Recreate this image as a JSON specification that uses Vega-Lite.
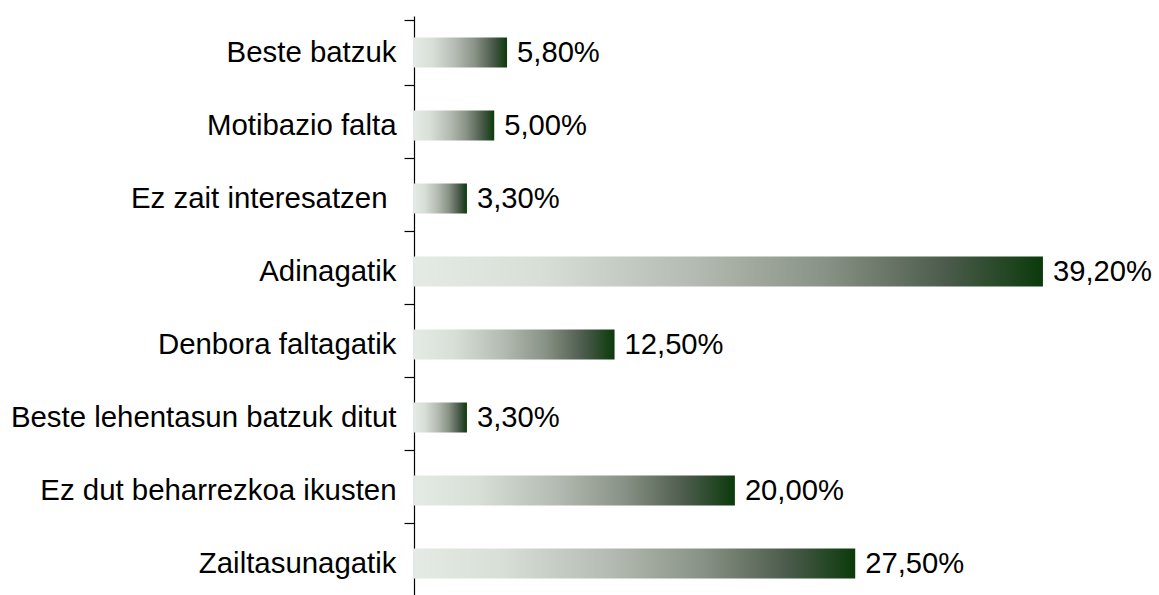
{
  "$schema": "https://vega.github.io/schema/vega-lite/v6.json",
  "width": 722,
  "height": 584,
  "autosize": {"type": "none"},
  "padding": {"left": 414, "top": 16, "right": 23, "bottom": 0},
  "background": "white",
  "config": {"view": {"stroke": null}, "font": "Liberation Sans"},
  "data": {
    "values": [
      {"category": "Beste batzuk", "value": 5.8, "label": "5,80%"},
      {"category": "Motibazio falta", "value": 5.0, "label": "5,00%"},
      {"category": "Ez zait interesatzen", "value": 3.3, "label": "3,30%"},
      {"category": "Adinagatik", "value": 39.2, "label": "39,20%"},
      {"category": "Denbora faltagatik", "value": 12.5, "label": "12,50%"},
      {"category": "Beste lehentasun batzuk ditut", "value": 3.3, "label": "3,30%"},
      {"category": "Ez dut beharrezkoa ikusten", "value": 20.0, "label": "20,00%"},
      {"category": "Zailtasunagatik", "value": 27.5, "label": "27,50%"}
    ]
  },
  "encoding": {
    "y": {
      "field": "category",
      "type": "nominal",
      "sort": null,
      "axis": {
        "title": null,
        "domainColor": "#000000",
        "domainWidth": 1.2,
        "tickColor": "#000000",
        "tickWidth": 1.2,
        "tickSize": 10,
        "tickBand": "extent",
        "labelFontSize": 29.4,
        "labelColor": "#000000",
        "labelPadding": {"condition": {"test": "datum.value == 'Ez zait interesatzen'", "value": 17}, "value": 8},
        "labelLimit": 500,
        "labelFont": "Liberation Sans"
      }
    },
    "x": {
      "field": "value",
      "type": "quantitative",
      "scale": {"domain": [0, 45]},
      "axis": null
    }
  },
  "layer": [
    {
      "mark": {
        "type": "bar",
        "size": 30,
        "color": {
          "gradient": "linear",
          "x1": 0, "x2": 1, "y1": 0, "y2": 0,
          "stops": [
            {"offset": 0, "color": "#e4ebe4"},
            {"offset": 0.2, "color": "#d8dfd7"},
            {"offset": 0.45, "color": "#b3bab1"},
            {"offset": 0.65, "color": "#8a9387"},
            {"offset": 0.85, "color": "#4a5a4a"},
            {"offset": 1, "color": "#0b3a0b"}
          ]
        }
      }
    },
    {
      "mark": {
        "type": "text",
        "align": "left",
        "baseline": "middle",
        "dx": 10,
        "fontSize": 29.2,
        "color": "#000000",
        "font": "Liberation Sans"
      },
      "encoding": {"text": {"field": "label"}}
    }
  ]
}
